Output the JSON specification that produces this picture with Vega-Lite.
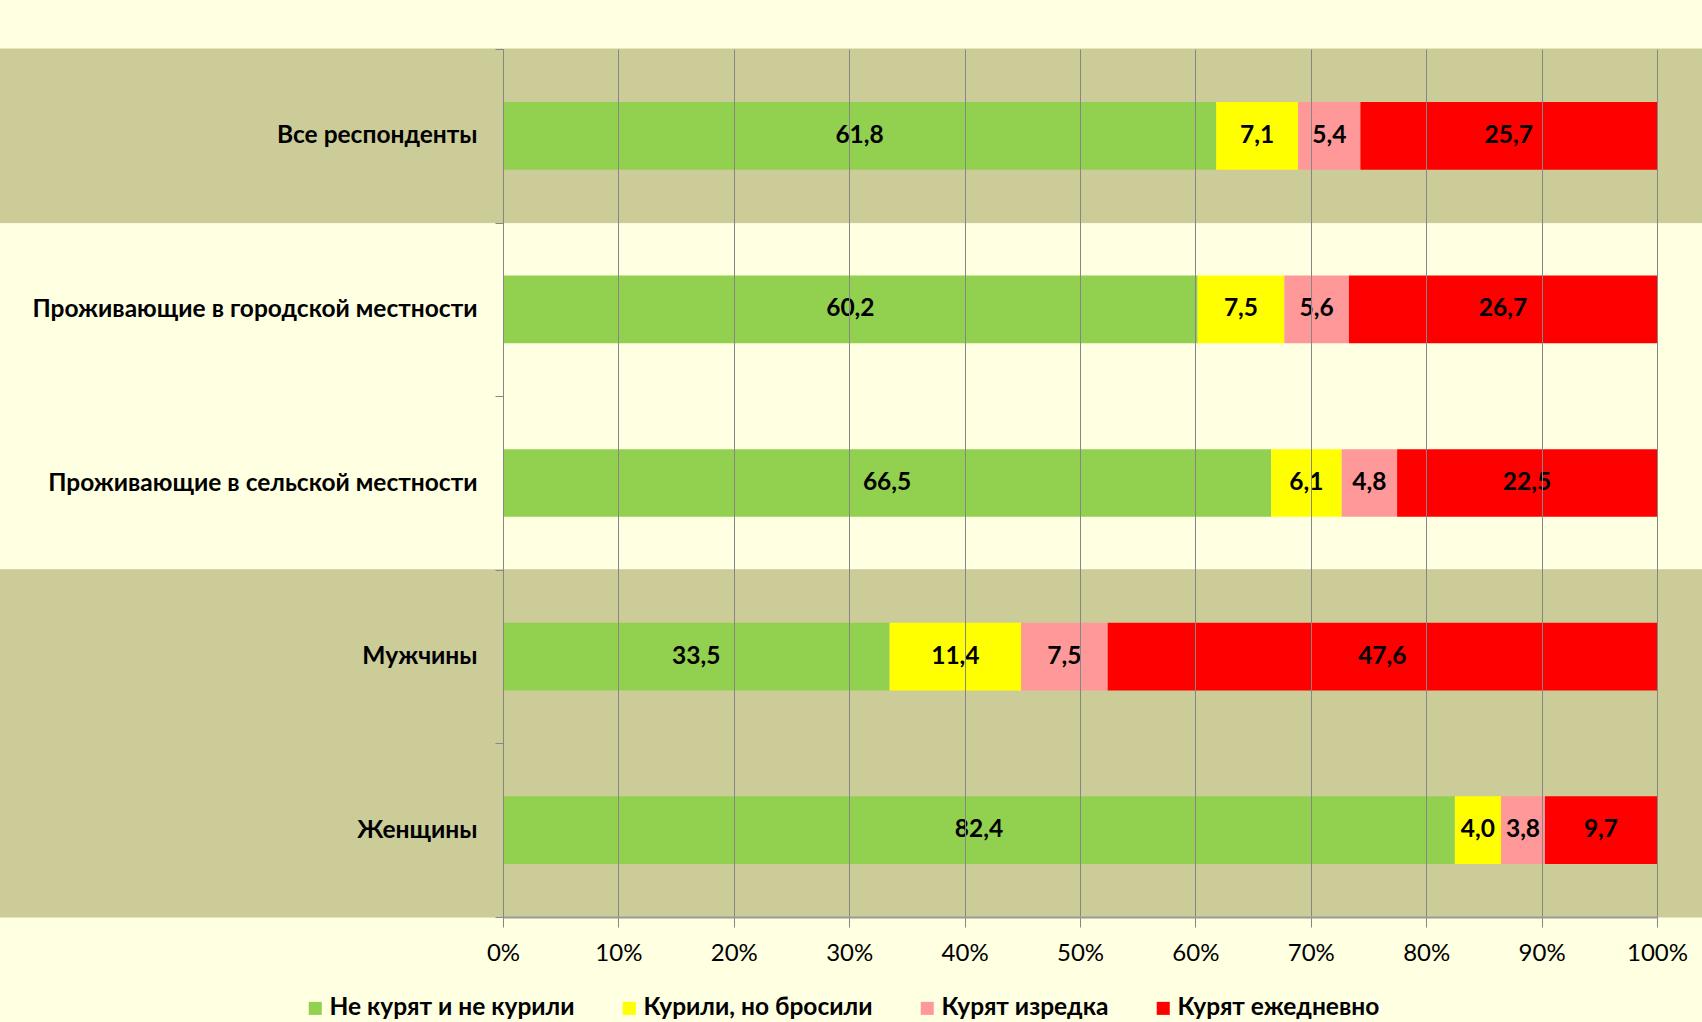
{
  "$schema": "https://vega.github.io/schema/vega-lite/v6.json",
  "width": 1154,
  "height": 868,
  "autosize": "none",
  "padding": {"left": 503, "top": 49, "right": 45, "bottom": 105},
  "background": "#FFFFE1",
  "config": {
    "view": {"stroke": null},
    "locale": {"number": {"decimal": ",", "thousands": "\u00a0", "grouping": [3], "currency": ["", " ₽"]}}
  },
  "data": {
    "values": [
      {"group": "Все респонденты", "status": "Не курят и не курили", "k": 1, "value": 61.8},
      {"group": "Все респонденты", "status": "Курили, но бросили", "k": 2, "value": 7.1},
      {"group": "Все респонденты", "status": "Курят изредка", "k": 3, "value": 5.4},
      {"group": "Все респонденты", "status": "Курят ежедневно", "k": 4, "value": 25.7},
      {"group": "Проживающие в  городской местности", "status": "Не курят и не курили", "k": 1, "value": 60.2},
      {"group": "Проживающие в  городской местности", "status": "Курили, но бросили", "k": 2, "value": 7.5},
      {"group": "Проживающие в  городской местности", "status": "Курят изредка", "k": 3, "value": 5.6},
      {"group": "Проживающие в  городской местности", "status": "Курят ежедневно", "k": 4, "value": 26.7},
      {"group": "Проживающие в  сельской местности", "status": "Не курят и не курили", "k": 1, "value": 66.5},
      {"group": "Проживающие в  сельской местности", "status": "Курили, но бросили", "k": 2, "value": 6.1},
      {"group": "Проживающие в  сельской местности", "status": "Курят изредка", "k": 3, "value": 4.8},
      {"group": "Проживающие в  сельской местности", "status": "Курят ежедневно", "k": 4, "value": 22.5},
      {"group": "Мужчины", "status": "Не курят и не курили", "k": 1, "value": 33.5},
      {"group": "Мужчины", "status": "Курили, но бросили", "k": 2, "value": 11.4},
      {"group": "Мужчины", "status": "Курят изредка", "k": 3, "value": 7.5},
      {"group": "Мужчины", "status": "Курят ежедневно", "k": 4, "value": 47.6},
      {"group": "Женщины", "status": "Не курят и не курили", "k": 1, "value": 82.4},
      {"group": "Женщины", "status": "Курили, но бросили", "k": 2, "value": 4.0},
      {"group": "Женщины", "status": "Курят изредка", "k": 3, "value": 3.8},
      {"group": "Женщины", "status": "Курят ежедневно", "k": 4, "value": 9.7}
    ]
  },
  "encoding": {
    "y": {
      "field": "group",
      "type": "nominal",
      "sort": ["Все респонденты", "Проживающие в  городской местности", "Проживающие в  сельской местности", "Мужчины", "Женщины"],
      "scale": {"paddingInner": 0, "paddingOuter": 0},
      "axis": {
        "title": null,
        "zindex": 1,
        "tickBand": "extent",
        "tickSize": 8,
        "tickColor": "#868686",
        "domainColor": "#868686",
        "labelPadding": 18,
        "labelFont": "Lato",
        "labelFontSize": 24.5,
        "labelFontWeight": "bold",
        "labelColor": "#000000",
        "labelLimit": 600,
        "grid": false
      }
    }
  },
  "layer": [
    {
      "transform": [
        {"filter": {"field": "k", "equal": 1}},
        {"filter": {"field": "group", "oneOf": ["Все респонденты", "Мужчины", "Женщины"]}}
      ],
      "mark": {"type": "rect", "color": "#CCCC99", "stroke": "#CCCC99", "strokeWidth": 1, "zindex": 0},
      "encoding": {
        "x": {"datum": -0.45, "type": "quantitative", "scale": {"domain": [0, 1]}, "title": null},
        "x2": {"datum": 1.05}
      }
    },
    {
      "mark": {"type": "bar", "height": {"band": 0.39}, "zindex": 2},
      "encoding": {
        "x": {
          "field": "value",
          "type": "quantitative",
          "stack": "normalize",
          "scale": {"domain": [0, 1]},
          "title": null,
          "axis": {
            "title": null,
            "values": [0, 0.1, 0.2, 0.3, 0.4, 0.5, 0.6, 0.7, 0.8, 0.9, 1],
            "format": ".0%",
            "zindex": 1,
            "grid": true,
            "gridColor": "#868686",
            "gridWidth": 1,
            "tickSize": 10,
            "tickColor": "#868686",
            "domainColor": "#9A9A9A",
            "domainWidth": 2,
            "labelFont": "Lato",
            "labelFontSize": 24,
            "labelColor": "#000000",
            "labelPadding": 14,
            "labelFlush": false,
            "labelOverlap": false
          }
        },
        "color": {
          "field": "status",
          "type": "nominal",
          "scale": {
            "domain": ["Не курят и не курили", "Курили, но бросили", "Курят изредка", "Курят ежедневно"],
            "range": ["#92D050", "#FFFF00", "#FF9999", "#FF0000"]
          },
          "legend": {
            "title": null,
            "orient": "none",
            "direction": "horizontal",
            "legendX": -200,
            "legendY": 947,
            "columnPadding": 42,
            "symbolType": "square",
            "symbolSize": 170,
            "symbolStrokeWidth": 0,
            "labelFont": "Lato",
            "labelFontSize": 24.5,
            "labelFontWeight": "bold",
            "labelColor": "#000000",
            "labelOffset": 2,
            "labelLimit": 400
          }
        },
        "order": {"field": "k", "type": "quantitative"}
      }
    },
    {
      "mark": {"type": "text", "font": "Lato", "fontSize": 24.5, "fontWeight": "bold", "color": "#000000", "zindex": 3, "baseline": "middle", "align": "center"},
      "encoding": {
        "x": {"field": "value", "type": "quantitative", "stack": "normalize", "bandPosition": 0.5, "scale": {"domain": [0, 1]}, "title": null},
        "detail": {"field": "status", "type": "nominal"},
        "order": {"field": "k", "type": "quantitative"},
        "text": {"field": "value", "type": "quantitative", "format": ".1f"}
      }
    }
  ]
}
